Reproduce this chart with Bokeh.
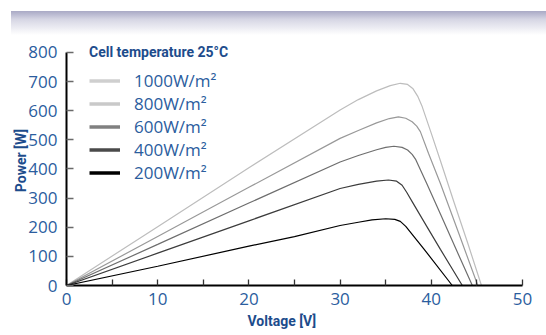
from bokeh.plotting import figure
from bokeh.models import Legend, LegendItem, FixedTicker, Div, Title, Range1d
from bokeh.layouts import column
from bokeh.embed import file_html
from bokeh.resources import INLINE

# ---- data ----
v_1000 = [0, 10, 20, 30, 32, 34, 35.5, 36.6, 37.4, 38.0, 38.5, 39.0, 40.0, 41.0, 42.5, 44.0, 45.5]
p_1000 = [0, 202, 404, 602, 638, 668, 686, 694, 690, 675, 650, 614, 522, 428, 285, 145, 0]

v_800 = [0, 10, 20, 30, 32, 34, 35.4, 36.4, 37.2, 37.9, 38.4, 38.8, 39.7, 41.0, 43.0, 45.1]
p_800 = [0, 168, 337, 505, 532, 558, 573, 579, 574, 562, 547, 528, 453, 350, 180, 0]

v_600 = [0, 10, 20, 30, 32, 34, 35.0, 35.9, 36.8, 37.4, 37.9, 38.3, 39.5, 41.0, 43.0, 44.5]
p_600 = [0, 141, 283, 424, 446, 466, 474, 478, 474, 465, 450, 432, 350, 245, 105, 0]

v_400 = [0, 10, 20, 30, 32, 34, 35.3, 36.2, 36.8, 37.3, 37.9, 39.5, 41.0, 43.4]
p_400 = [0, 111, 222, 333, 347, 358, 362, 358, 344, 320, 288, 203, 124, 0]

v_200 = [0, 10, 20, 25, 30, 32, 33.5, 35.0, 36.0, 36.6, 37.2, 39.2, 42.3]
p_200 = [0, 66, 135, 168, 206, 217, 225, 229, 227, 220, 203, 125, 0]

labels = ["1000W/m\u00b2", "800W/m\u00b2", "600W/m\u00b2", "400W/m\u00b2", "200W/m\u00b2"]
line_colors = ["#bdbdbd", "#999999", "#6e6e6e", "#3c3c3c", "#000000"]
legend_colors = ["#cfcfcf", "#c9c9c9", "#808080", "#4a4a4a", "#000000"]

x_major_ticks = [0, 10, 20, 30, 40, 50]
x_minor_ticks = [5, 15, 25, 35, 45]
y_ticks = [0, 100, 200, 300, 400, 500, 600, 700, 800]

BLUE = "#2b5d9e"
NAVY = "#1d4c8c"
BOLDFONT = "Roboto"
TICKFONT = "Open Sans"

volts = [v_1000, v_800, v_600, v_400, v_200]
powers = [p_1000, p_800, p_600, p_400, p_200]

p = figure(width=546, height=300, x_range=Range1d(0, 50), y_range=Range1d(0, 858),
           output_backend="svg", toolbar_location=None,
           min_border_left=66, min_border_right=24, min_border_top=0, min_border_bottom=50)
p.grid.visible = False
p.outline_line_color = None
p.background_fill_color = "white"
p.border_fill_color = "white"

for v, pw, c in zip(volts, powers, line_colors):
    p.line(v, pw, line_color=c, line_width=1.2)

items = []
for lab, c in zip(labels, legend_colors):
    r = p.line(x=[float("nan")], y=[float("nan")], line_color=c, line_width=3.5)
    items.append(LegendItem(label=lab, renderers=[r]))

legend = Legend(items=items, location=(23, 101), title="Cell temperature 25\u00b0C",
                title_text_font=BOLDFONT, title_text_font_style="bold",
                title_text_font_size="14px", title_text_color=NAVY, title_standoff=9,
                label_text_font=TICKFONT, label_text_font_size="17px", label_text_color=BLUE,
                glyph_width=31, glyph_height=23, label_height=23, label_standoff=14,
                spacing=0, padding=0, margin=0,
                border_line_color=None, background_fill_alpha=0)
p.add_layout(legend)

# x axis
xa = p.xaxis[0]
xa.ticker = FixedTicker(ticks=x_major_ticks, minor_ticks=x_minor_ticks)
xa.axis_line_color = "black"
xa.axis_line_width = 2
xa.major_tick_in = 6
xa.major_tick_out = 0
xa.minor_tick_in = 6
xa.minor_tick_out = 0
xa.major_tick_line_color = "#333333"
xa.minor_tick_line_color = "#333333"
xa.major_tick_line_width = 1.3
xa.minor_tick_line_width = 1.3
xa.major_label_text_font = TICKFONT
xa.major_label_text_font_size = "17px"
xa.major_label_text_color = BLUE
xa.major_label_standoff = 7

p.add_layout(Title(text="Voltage [V]", align="left", offset=181, standoff=7,
                   text_font=BOLDFONT, text_font_style="bold", text_font_size="14px",
                   text_color=NAVY), "below")

# y axis
ya = p.yaxis[0]
ya.ticker = FixedTicker(ticks=y_ticks)
ya.bounds = (0, 800)
ya.axis_line_color = "black"
ya.axis_line_width = 2
ya.major_tick_in = 7
ya.major_tick_out = 0
ya.minor_tick_in = 0
ya.minor_tick_out = 0
ya.major_tick_line_color = "#6a6a6a"
ya.major_tick_line_width = 1.5
ya.major_label_text_font = TICKFONT
ya.major_label_text_font_size = "17px"
ya.major_label_text_color = BLUE
ya.major_label_standoff = 9
ya.axis_label = "Power [W]"
ya.axis_label_text_font = BOLDFONT
ya.axis_label_text_font_style = "bold"
ya.axis_label_text_font_size = "14px"
ya.axis_label_text_color = NAVY
ya.axis_label_standoff = -4

band = Div(text='<div style="margin:11px 0 0 11px;width:535px;height:24px;'
                'background:linear-gradient(to bottom,#a9a9c5 0%,#d6d6e4 35%,#ffffff 100%);"></div>',
           width=546, height=35, margin=(0, 0, 0, 0))

layout = column(band, p, spacing=0)
open("out.html", "w").write(file_html(layout, INLINE))
